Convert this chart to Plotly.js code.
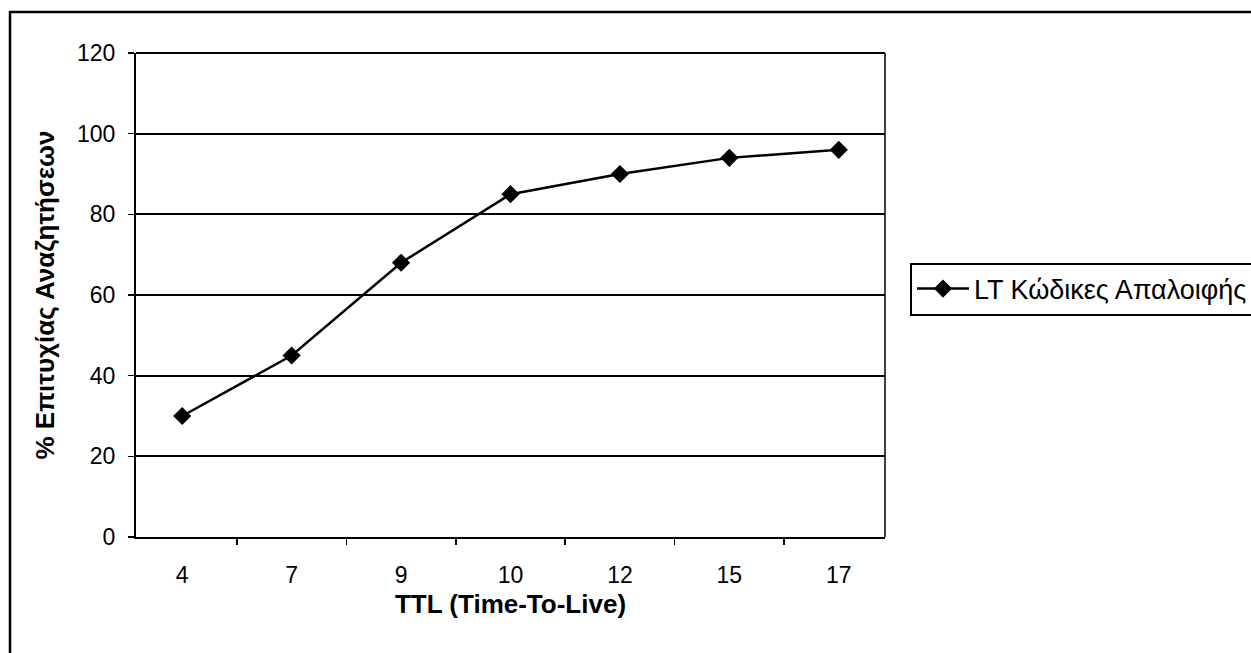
<!DOCTYPE html>
<html>
<head>
<meta charset="utf-8">
<script src="https://cdn.plot.ly/plotly-3.0.1.min.js"></script>
<style>html,body{margin:0;padding:0;background:#fff;}#chart{width:1251px;height:653px;}</style>
</head>
<body>
<div id="chart"></div>
<script>
const categories = ["4", "7", "9", "10", "12", "15", "17"];
const successRate = [30, 45, 68, 85, 90, 94, 96];
const seriesName = "LT Κώδικες Απαλοιφής";
const xTitle = "TTL (Time-To-Live)";
const yTitle = "% Επιτυχίας Αναζητήσεων";
const yTicks = [0, 20, 40, 60, 80, 100, 120];

const FONT = "Liberation Sans, Arial, sans-serif";
const L = 136, R = 885, T = 53, B = 537, W = 1251, H = 653;
const pw = R - L, ph = B - T;
const px = v => (v - L) / pw;
const py = v => (B - v) / ph;

const trace = {
  x: categories, y: successRate, type: "scatter", mode: "lines+markers",
  name: seriesName,
  line: {color: "#000", width: 2.5},
  marker: {symbol: "diamond", size: 14, color: "#000"}
};

const layout = {
  width: W, height: H,
  margin: {l: L, r: W - R, t: T, b: H - B, autoexpand: false},
  paper_bgcolor: "#fff", plot_bgcolor: "#fff",
  font: {family: FONT, color: "#000", size: 23},
  showlegend: true,
  legend: {
    x: px(910), xanchor: "left", y: py(289), yanchor: "middle",
    bordercolor: "#000", borderwidth: 2, bgcolor: "#fff",
    font: {family: FONT, size: 27, color: "#000"},
    itemwidth: 52
  },
  xaxis: {
    type: "category", tickvals: categories, ticktext: categories,
    showgrid: false, zeroline: false,
    showline: true, linecolor: "#000", linewidth: 2,
    ticks: "outside", tickson: "boundaries", ticklen: 6, tickcolor: "#000", tickwidth: 1.5,
    tickfont: {family: FONT, size: 23, color: "#000"},
    ticklabelstandoff: 16,
    title: {text: xTitle, font: {family: FONT, size: 26, color: "#000", weight: "bold"}, standoff: 8},
    automargin: false, fixedrange: true
  },
  yaxis: {
    range: [0, 120], tickvals: yTicks, ticktext: yTicks.map(String),
    showgrid: true, gridcolor: "#000", gridwidth: 2, zeroline: false,
    showline: true, linecolor: "#000", linewidth: 2,
    ticks: "outside", ticklen: 6, tickcolor: "#000", tickwidth: 1.5,
    tickfont: {family: FONT, size: 23, color: "#000"},
    ticklabelstandoff: 8,
    title: {text: yTitle, font: {family: FONT, size: 26, color: "#000", weight: "bold"}, standoff: 15},
    automargin: false, fixedrange: true
  },
  shapes: [
    {type: "line", xref: "paper", yref: "paper", x0: 1, x1: 1, y0: 0, y1: 1, line: {color: "#000", width: 1.5}},
    {type: "line", xref: "paper", yref: "paper", x0: 0, x1: 1, y0: 1, y1: 1, line: {color: "#000", width: 2}},
    {type: "rect", xref: "paper", yref: "paper", x0: px(10), x1: px(1270), y0: py(12), y1: py(680), line: {color: "#000", width: 2.5}, layer: "below"}
  ]
};

Plotly.newPlot("chart", [trace], layout, {staticPlot: true, displayModeBar: false});
</script>
</body>
</html>
